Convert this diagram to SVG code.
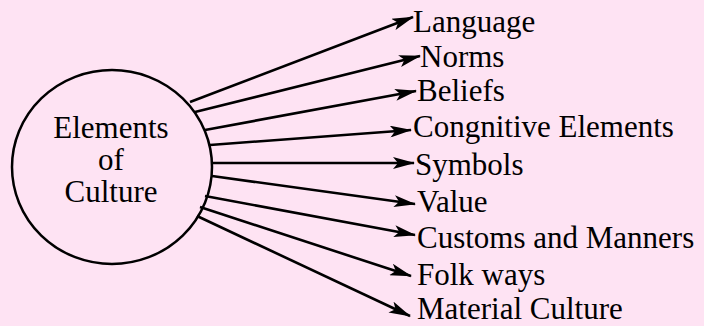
<svg xmlns="http://www.w3.org/2000/svg" width="704" height="326" viewBox="0 0 704 326">
  <defs>
    <marker id="arrow" viewBox="0 0 22 12" refX="21" refY="6" markerWidth="22" markerHeight="12" markerUnits="userSpaceOnUse" orient="auto">
      <path d="M0,0 L22,6 L0,12 L5,6 z" fill="#000"/>
    </marker>
    <style>
      .bg { fill: #FEE3F3; }
      .hub { fill: none; stroke: #000; stroke-width: 2.5; }
      .hubtext { font-size: 31px; fill: #000; text-anchor: middle; }
      .label { font-size: 31px; fill: #000; }
      .conn line { stroke: #000; stroke-width: 2.6; marker-end: url(#arrow); }
    </style>
  </defs>
  <rect class="bg" x="0" y="0" width="704" height="326"/>

  <g id="node-elements-of-culture" font-family="Liberation Serif, Times New Roman, Tinos, DejaVu Serif, serif">
    <ellipse class="hub" cx="112" cy="167" rx="100" ry="97"/>
    <text class="hubtext" x="111" y="138">Elements</text>
    <text class="hubtext" x="111" y="170">of</text>
    <text class="hubtext" x="111" y="202">Culture</text>
  </g>

  <g id="connectors" class="conn">
    <line x1="190" y1="102" x2="413" y2="17"/>
    <line x1="195" y1="112" x2="420" y2="56"/>
    <line x1="205" y1="130" x2="416" y2="91"/>
    <line x1="210" y1="145" x2="411" y2="130"/>
    <line x1="212" y1="163" x2="414" y2="163"/>
    <line x1="212" y1="176" x2="415" y2="204"/>
    <line x1="205" y1="196" x2="415" y2="235"/>
    <line x1="200" y1="207" x2="411" y2="276"/>
    <line x1="197" y1="216" x2="410" y2="316"/>
  </g>

  <g font-family="Liberation Serif, Times New Roman, Tinos, DejaVu Serif, serif">
    <g id="node-language"><text class="label" x="413" y="32">Language</text></g>
    <g id="node-norms"><text class="label" x="420" y="66.5">Norms</text></g>
    <g id="node-beliefs"><text class="label" x="417" y="101">Beliefs</text></g>
    <g id="node-congnitive-elements"><text class="label" x="413" y="137">Congnitive Elements</text></g>
    <g id="node-symbols"><text class="label" x="415" y="175">Symbols</text></g>
    <g id="node-value"><text class="label" x="417" y="212">Value</text></g>
    <g id="node-customs-and-manners"><text class="label" x="417" y="248">Customs and Manners</text></g>
    <g id="node-folk-ways"><text class="label" x="417" y="284.5">Folk ways</text></g>
    <g id="node-material-culture"><text class="label" x="417" y="319">Material Culture</text></g>
  </g>
</svg>
